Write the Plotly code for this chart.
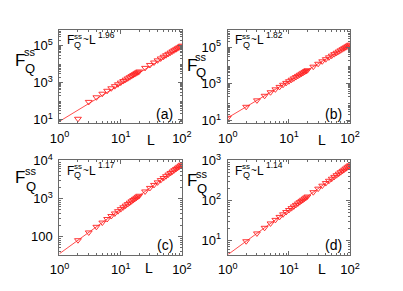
import plotly.graph_objects as go

W, H = 403, 291

# ---------------- data ----------------
L_a = [2, 3, 4, 5, 6, 7, 8, 9, 10, 11, 12, 13, 14, 15, 16, 17, 18, 19, 20,
       25, 30, 35, 40, 45, 50, 55, 60, 65, 70, 75, 80, 85, 90, 95, 100]
F_a = [11, 90, 160, 250, 360, 490, 640, 810, 1000, 1210, 1440, 1690, 1960, 2250,
       2560, 2890, 3240, 3610, 4000, 6250, 9000, 12250, 16000, 20250, 25000,
       30250, 36000, 42250, 49000, 56250, 64000, 72250, 81000, 90250, 100000]

L_b = [1, 2, 3, 4, 5, 6, 7, 8, 9, 10, 11, 12, 13, 14, 15, 16, 17, 18, 19, 20,
       25, 30, 35, 40, 45, 50, 55, 60, 65, 70, 75, 80, 85, 90, 95, 100]
F_b = [14, 56, 126, 224, 350, 504, 686, 896, 1134, 1400, 1694, 2016, 2366, 2744,
       3150, 3584, 4046, 4536, 5054, 5600, 8750, 12600, 17150, 22400, 28350,
       35000, 42350, 50400, 59150, 68600, 78750, 89600, 101150, 113400, 126350, 140000]

L_c = [2, 3, 4, 5, 6, 7, 8, 9, 10, 11, 12, 13, 14, 15, 16, 17, 18, 19, 20,
       25, 30, 35, 40, 45, 50, 55, 60, 65, 70, 75, 80, 85, 90, 95, 100]
F_c = [80, 128, 180, 233, 289, 346, 404, 464, 525, 587, 650, 713, 778, 843, 910,
       976, 1044, 1112, 1181, 1533, 1898, 2273, 2658, 3050, 3450, 3858, 4272,
       4690, 5114, 5544, 5978, 6418, 6861, 7310, 7762]

L_d = [2, 3, 4, 5, 6, 7, 8, 9, 10, 11, 12, 13, 14, 15, 16, 17, 18, 19, 20,
       25, 30, 35, 40, 45, 50, 55, 60, 65, 70, 75, 80, 85, 90, 95, 100]
F_d = [9.49, 14.9, 20.6, 26.5, 32.5, 38.6, 44.8, 51.1, 57.5, 64.0, 70.6, 77.2,
       83.9, 90.6, 97.4, 104.2, 111.1, 118.1, 125.1, 160.6, 197.0, 234.0, 271.9,
       310.1, 349.2, 388.3, 428.2, 468.2, 508.7, 549.7, 590.9, 632.3, 674.1,
       716.1, 758.6]

# fitted power-law lines (endpoints at L = 1 and L = 100)
fit_L = [1, 100]
fit_a = [8, 85000]
fit_b = [14, 140000]
fit_c = [35.5, 7762]
fit_d = [4.37, 758.6]

exponents = ["1.96", "1.82", "1.17", "1.14"]
panel_tags = ["(a)", "(b)", "(c)", "(d)"]

x_tickvals = [1, 10, 100]
x_ticktext = ["10<sup>0</sup>", "10<sup>1</sup>", "10<sup>2</sup>"]
y_tickvals = [[10, 1000, 100000], [10, 1000, 100000], [100, 1000, 10000], [10, 100, 1000]]
y_ticktext = [["10<sup>1</sup>", "10<sup>3</sup>", "10<sup>5</sup>"],
              ["10<sup>1</sup>", "10<sup>3</sup>", "10<sup>5</sup>"],
              ["100", "10<sup>3</sup>", "10<sup>4</sup>"],
              ["10<sup>1</sup>", "10<sup>2</sup>", "10<sup>3</sup>"]]
y_ranges = [[0.8, 5.85], [0.85, 5.95], [1.525, 4.003], [0.643, 3.003]]

# ---------------- layout geometry (pixels) ----------------
panels_px = [(52, 181, 22, 120), (229, 358, 22, 120), (52, 181, 159, 258), (229, 358, 159, 258)]

def px(x):
    return x / W

def py(y):
    return 1 - y / H

FONT = "Liberation Sans, Arial, Helvetica, sans-serif"
RED = "#ff2020"
AX = "#6a6a6a"

fig = go.Figure()
data = [(L_a, F_a, fit_a), (L_b, F_b, fit_b), (L_c, F_c, fit_c), (L_d, F_d, fit_d)]

minor_vals = [m * 10 ** k for k in range(-1, 7) for m in range(2, 10)]

annotations = []

def add(text, x, y, size):
    annotations.append(dict(text=text, x=px(x), y=py(y), xref="paper", yref="paper",
                            showarrow=False, xanchor="center", yanchor="middle",
                            borderpad=0,
                            font=dict(family=FONT, size=size, color="black")))

for i, (Ls, Fs, fit) in enumerate(data):
    n = "" if i == 0 else str(i + 1)
    xa = "x" + n
    ya = "y" + n
    fig.add_trace(go.Scatter(x=fit_L, y=fit, mode="lines", xaxis=xa, yaxis=ya,
                             line=dict(color=RED, width=0.8), showlegend=False))
    fig.add_trace(go.Scatter(x=Ls, y=Fs, mode="markers", xaxis=xa, yaxis=ya,
                             marker=dict(symbol="triangle-down-open", size=6,
                                         color=RED, line=dict(color=RED, width=0.9)),
                             showlegend=False))
    x0, x1, y0, y1 = panels_px[i]
    common = dict(type="log", showline=True, mirror="ticks", linecolor=AX, linewidth=1,
                  ticks="inside", ticklen=4, tickcolor=AX, showgrid=False, zeroline=False,
                  tickfont=dict(family=FONT, size=13, color="black"),
                  minor=dict(ticks="inside", ticklen=2, tickcolor=AX, tickvals=minor_vals,
                             showgrid=False))
    fig.update_layout(**{
        "xaxis" + n: dict(domain=[px(x0), px(x1)], anchor=ya, range=[-0.002, 2.002],
                          tickvals=x_tickvals, ticktext=x_ticktext,
                          ticklabelstandoff=3, **common),
        "yaxis" + n: dict(domain=[py(y1), py(y0)], anchor=xa, range=y_ranges[i],
                          tickvals=y_tickvals[i], ticktext=y_ticktext[i],
                          ticklabelstandoff=3, **common),
    })

    # inset formula  F^ss_Q ~ L^exp
    add("F", x0 + 11.5, y0 + 11, 12)
    add("ss", x0 + 19.5, y0 + 6.5, 8)
    add("Q", x0 + 19.5, y0 + 15.5, 9)
    add("~", x0 + 28, y0 + 10.5, 10)
    add("L", x0 + 35, y0 + 11, 12)
    add(exponents[i], x0 + 49.5, y0 + 5, 8.5)
    # panel tag
    add(panel_tags[i], x1 - 18, y1 - 10, 14)

# axis titles
ylab = [((10, 54), (21, 45), (21, 63)),
        ((191, 59), (201, 50), (201, 67)),
        ((11, 177), (22, 170), (22, 186)),
        ((192, 180), (202, 173), (202, 189))]
for (F, s, q) in ylab:
    add("F", F[0], F[1], 17)
    add("ss", s[0], s[1], 11)
    add("Q", q[0], q[1], 13)
for (x, y) in [(148, 138), (328, 138), (146, 272), (328, 273)]:
    add("L", x, y, 14)

fig.update_layout(width=W, height=H, autosize=False,
                  margin=dict(l=0, r=0, t=0, b=0),
                  paper_bgcolor="white", plot_bgcolor="white",
                  annotations=annotations,
                  font=dict(family=FONT, color="black"))

fig.write_html("out.html", config={"displayModeBar": False},
               post_script="document.body.style.margin='0';document.body.style.overflow='hidden';")
